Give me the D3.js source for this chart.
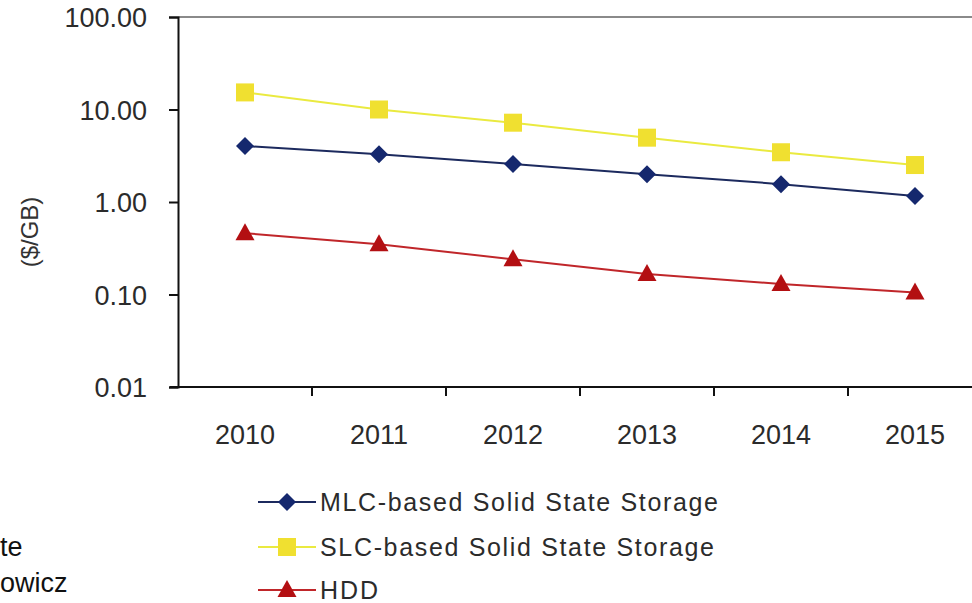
<!DOCTYPE html>
<html>
<head>
<meta charset="utf-8">
<script src="https://cdn.jsdelivr.net/npm/d3@7"></script>
<style>
html,body{margin:0;padding:0;background:#fff;}
svg{display:block;font-family:"Liberation Sans",Arial,sans-serif;}
</style>
</head>
<body>
<svg id="chart" width="972" height="603"></svg>
<script>
const years = ["2010","2011","2012","2013","2014","2015"];
const mlc = [4.03, 3.28, 2.58, 2.0, 1.56, 1.16];
const slc = [15.3, 10.0, 7.2, 4.96, 3.45, 2.51];
const hdd = [0.46, 0.35, 0.24, 0.167, 0.13, 0.105];
const yTicks = [0.01, 0.1, 1, 10, 100];
const seriesNames = ["MLC-based Solid State Storage", "SLC-based Solid State Storage", "HDD"];

(function () {
const series = [
  {name: seriesNames[0], values: mlc, line: "#1c2a5e", fill: "#15286e", shape: "diamond"},
  {name: seriesNames[1], values: slc, line: "#eaea40", fill: "#f0e030", shape: "square"},
  {name: seriesNames[2], values: hdd, line: "#c0262a", fill: "#b30f12", shape: "triangle"}
];

const svg = d3.select("#chart");
const pL = 178, pR = 982, pT = 17, pB = 387;

const x = d3.scaleBand().domain(years).range([pL, pR]).padding(0);
const y = d3.scaleLog().domain([0.01, 100]).range([pB, pT]);

// top border line
svg.append("line").attr("x1", pL).attr("x2", 972).attr("y1", pT).attr("y2", pT)
  .attr("stroke", "#8a8a8a").attr("stroke-width", 2);

// Y axis
const yAxis = d3.axisLeft(y).tickValues(yTicks).tickSize(9).tickPadding(22)
  .tickFormat(d3.format(".2f"));
const gy = svg.append("g").attr("transform", `translate(${pL},0)`).call(yAxis);
gy.select(".domain").attr("stroke", "#111").attr("stroke-width", 2);
gy.selectAll(".tick line").attr("stroke", "#111").attr("stroke-width", 2);
gy.selectAll(".tick text").attr("font-size", 27).attr("fill", "#2b2b2b")
  .attr("font-family", "'Liberation Sans', Arial, sans-serif").attr("dy", "0.36em");

// X axis
const xAxis = d3.axisBottom(x).tickSize(0).tickPadding(0);
const gx = svg.append("g").attr("transform", `translate(0,${pB})`).call(xAxis);
gx.select(".domain").attr("stroke", "#111").attr("stroke-width", 2)
  .attr("d", `M${pL - 8},0H${pR}`);
gx.selectAll(".tick text").attr("font-size", 27).attr("fill", "#2b2b2b")
  .attr("font-family", "'Liberation Sans', Arial, sans-serif").attr("y", 57).attr("dy", 0);
// category boundary ticks
const boundaries = years.slice(1).map(yr => x(yr));
gx.selectAll(".bt").data(boundaries).enter().append("line")
  .attr("x1", d => d).attr("x2", d => d).attr("y1", 0).attr("y2", 9)
  .attr("stroke", "#111").attr("stroke-width", 2);

// Y axis title
svg.append("text").attr("transform", "translate(38,232) rotate(-90)")
  .attr("text-anchor", "middle").attr("font-size", 24).attr("fill", "#333")
  .text("($/GB)");

const cx = d => x(d) + x.bandwidth() / 2;

function drawMarker(g, shape, fill, px, py) {
  if (shape === "diamond") {
    g.append("path").attr("d", `M${px},${py-9}L${px+9},${py}L${px},${py+9}L${px-9},${py}Z`).attr("fill", fill);
  } else if (shape === "square") {
    g.append("rect").attr("x", px - 9).attr("y", py - 9).attr("width", 18).attr("height", 18).attr("fill", fill);
  } else {
    g.append("path").attr("d", `M${px},${py-10}L${px+9.5},${py+7}L${px-9.5},${py+7}Z`).attr("fill", fill);
  }
}

const line = d3.line().x((d, i) => cx(years[i])).y(d => y(d));
series.forEach(s => {
  const g = svg.append("g");
  g.append("path").datum(s.values).attr("d", line).attr("fill", "none")
    .attr("stroke", s.line).attr("stroke-width", 2);
  s.values.forEach((v, i) => drawMarker(g, s.shape, s.fill, cx(years[i]), y(v)));
});

// Legend
const legendY = [502, 547, 590];
const legendW = [398, 394, null];
series.forEach((s, i) => {
  const g = svg.append("g");
  const ly = legendY[i];
  g.append("line").attr("x1", 258).attr("x2", 316).attr("y1", ly).attr("y2", ly)
    .attr("stroke", s.line).attr("stroke-width", 2);
  drawMarker(g, s.shape, s.fill, 287, ly);
  const t = g.append("text").attr("x", 320).attr("y", ly).attr("dy", "0.35em")
    .attr("font-size", 25).attr("fill", "#2b2b2b")
    .text(s.name);
  if (legendW[i]) t.attr("textLength", legendW[i]).attr("lengthAdjust", "spacing");
  else t.attr("letter-spacing", 2);
});

// cut-off text on the left
svg.append("text").attr("x", 0).attr("y", 556).attr("font-size", 27).attr("fill", "#111").text("te");
svg.append("text").attr("x", 0).attr("y", 592).attr("font-size", 27).attr("fill", "#111").text("owicz");
})();
</script>
</body>
</html>
